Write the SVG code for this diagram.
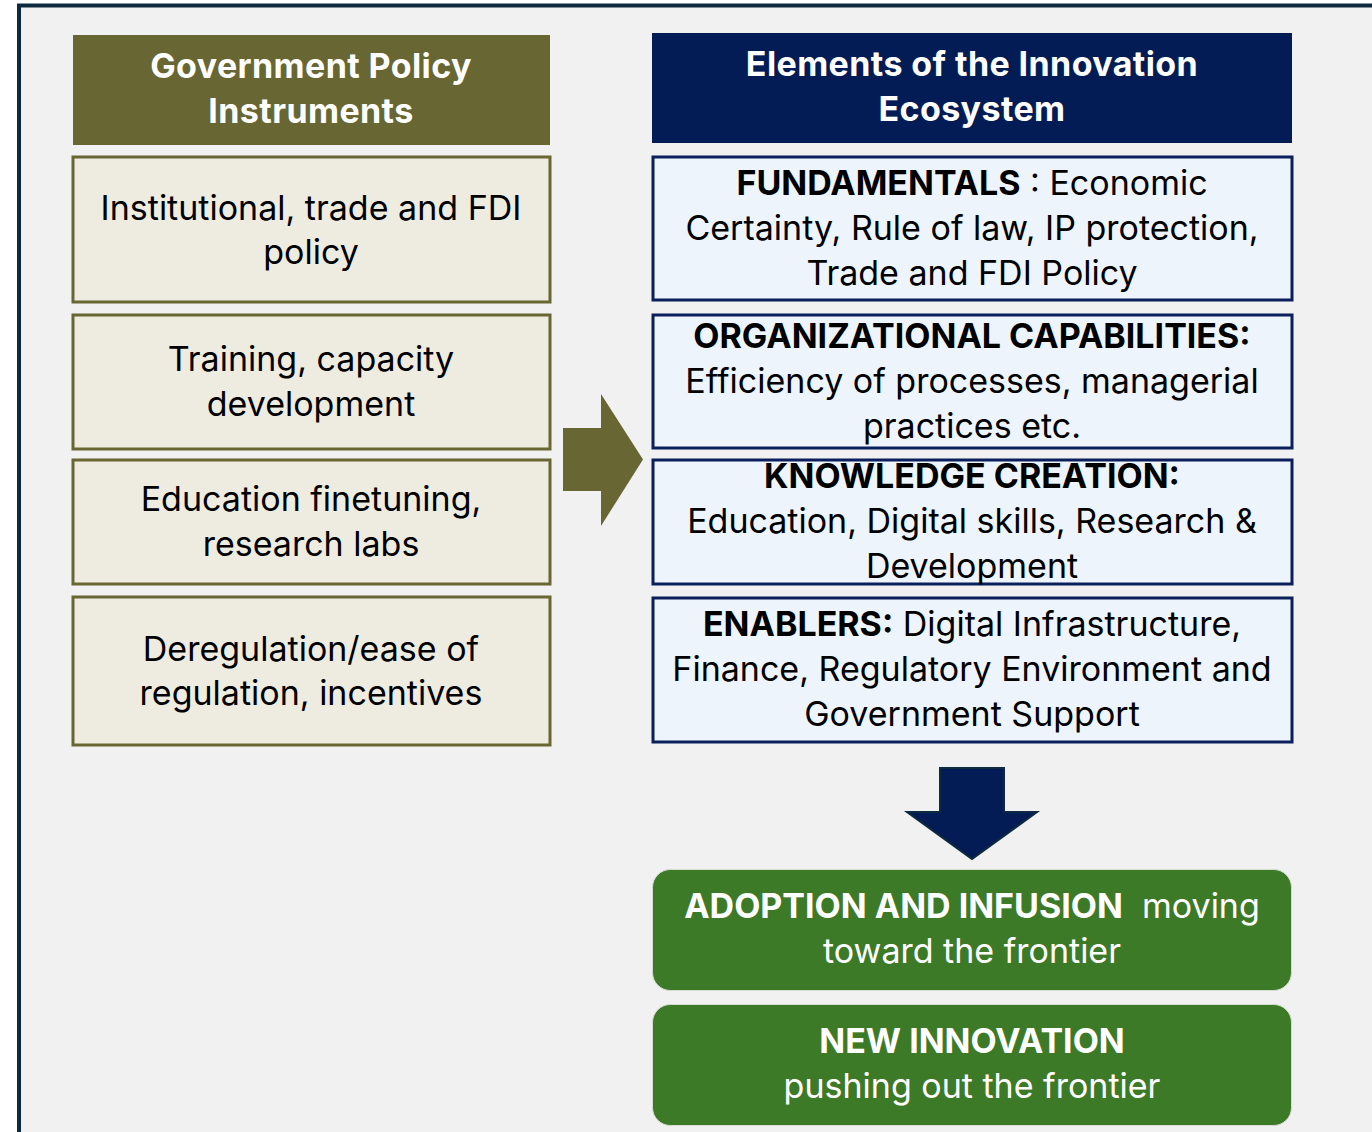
<svg xmlns="http://www.w3.org/2000/svg" width="1372" height="1132" viewBox="0 0 1372 1132">
  <style>
    text { font-family: Inter, "Open Sans", "Liberation Sans", sans-serif; font-size: 34px; text-anchor: middle; }
    .hd { fill: #ffffff; font-weight: bold; letter-spacing: 0.4px; }
    .dk { fill: #000000; }
    .wt { fill: #ffffff; }
    .b { font-weight: bold; }
    .pol { fill: #eeece1; stroke: #686633; stroke-width: 3; }
    .eco { fill: #eef4fb; stroke: #0a1f5c; stroke-width: 3; }
    .out { fill: #3d7a28; stroke: #d6dcd2; stroke-width: 1; }
  </style>

  <!-- page and frame -->
  <rect x="0" y="0" width="1372" height="1132" fill="#ffffff"/>
  <rect x="19" y="5.5" width="1360" height="1140" fill="#f1f1f1" stroke="#0e2a3f" stroke-width="4"/>

  <!-- column headers -->
  <g id="hdr-policy">
    <rect x="73" y="35" width="477" height="110" fill="#686633"/>
    <text class="hd" x="311" y="78">Government Policy</text>
    <text class="hd" x="311" y="123">Instruments</text>
  </g>
  <g id="hdr-ecosystem">
    <rect x="652" y="33" width="640" height="110" fill="#041c55"/>
    <text class="hd" x="972" y="76">Elements of the Innovation</text>
    <text class="hd" x="972" y="121">Ecosystem</text>
  </g>

  <!-- policy instruments -->
  <g id="pol-1">
    <rect class="pol" x="73" y="157" width="477" height="145"/>
    <text class="dk" x="311" y="220">Institutional, trade and FDI</text>
    <text class="dk" x="311" y="264">policy</text>
  </g>
  <g id="pol-2">
    <rect class="pol" x="73" y="315" width="477" height="134"/>
    <text class="dk" x="311" y="371">Training, capacity</text>
    <text class="dk" x="311" y="416">development</text>
  </g>
  <g id="pol-3">
    <rect class="pol" x="73" y="460" width="477" height="124"/>
    <text class="dk" x="311" y="511">Education finetuning,</text>
    <text class="dk" x="311" y="556">research labs</text>
  </g>
  <g id="pol-4">
    <rect class="pol" x="73" y="597" width="477" height="148"/>
    <text class="dk" x="311" y="661">Deregulation/ease of</text>
    <text class="dk" x="311" y="705">regulation, incentives</text>
  </g>

  <!-- ecosystem elements -->
  <g id="eco-fundamentals">
    <rect class="eco" x="653" y="157" width="639" height="143"/>
    <text class="dk" x="972" y="195"><tspan class="b">FUNDAMENTALS</tspan> : Economic</text>
    <text class="dk" x="972" y="240">Certainty, Rule of law, IP protection,</text>
    <text class="dk" x="972" y="285">Trade and FDI Policy</text>
  </g>
  <g id="eco-capabilities">
    <rect class="eco" x="653" y="315" width="639" height="133"/>
    <text class="dk b" x="972" y="348">ORGANIZATIONAL CAPABILITIES:</text>
    <text class="dk" x="972" y="393">Efficiency of processes, managerial</text>
    <text class="dk" x="972" y="438">practices etc.</text>
  </g>
  <g id="eco-knowledge">
    <rect class="eco" x="653" y="460" width="639" height="124"/>
    <text class="dk b" x="972" y="488">KNOWLEDGE CREATION:</text>
    <text class="dk" x="972" y="533">Education, Digital skills, Research &amp;</text>
    <text class="dk" x="972" y="578">Development</text>
  </g>
  <g id="eco-enablers">
    <rect class="eco" x="653" y="598" width="639" height="144"/>
    <text class="dk" x="972" y="636"><tspan class="b">ENABLERS:</tspan> Digital Infrastructure,</text>
    <text class="dk" x="972" y="681">Finance, Regulatory Environment and</text>
    <text class="dk" x="972" y="726">Government Support</text>
  </g>

  <!-- outcomes -->
  <g id="out-adoption">
    <rect class="out" x="652.5" y="869.5" width="639" height="121" rx="18"/>
    <text class="wt" x="972" y="918" xml:space="preserve"><tspan class="b">ADOPTION AND INFUSION</tspan>  moving</text>
    <text class="wt" x="972" y="963">toward the frontier</text>
  </g>
  <g id="out-innovation">
    <rect class="out" x="652.5" y="1004.5" width="639" height="121" rx="18"/>
    <text class="wt b" x="972" y="1053">NEW INNOVATION</text>
    <text class="wt" x="972" y="1098">pushing out the frontier</text>
  </g>

  <!-- block arrows -->
  <g id="connectors">
    <polygon points="563,428 601,428 601,394 643,459.5 601,526 601,491 563,491" fill="#686633"/>
    <polygon points="940,768 1004,768 1004,812 1037,812 972,859 907,812 940,812" fill="#041c55" stroke="#0e2a3f" stroke-width="2" stroke-linejoin="miter"/>
  </g>
</svg>
